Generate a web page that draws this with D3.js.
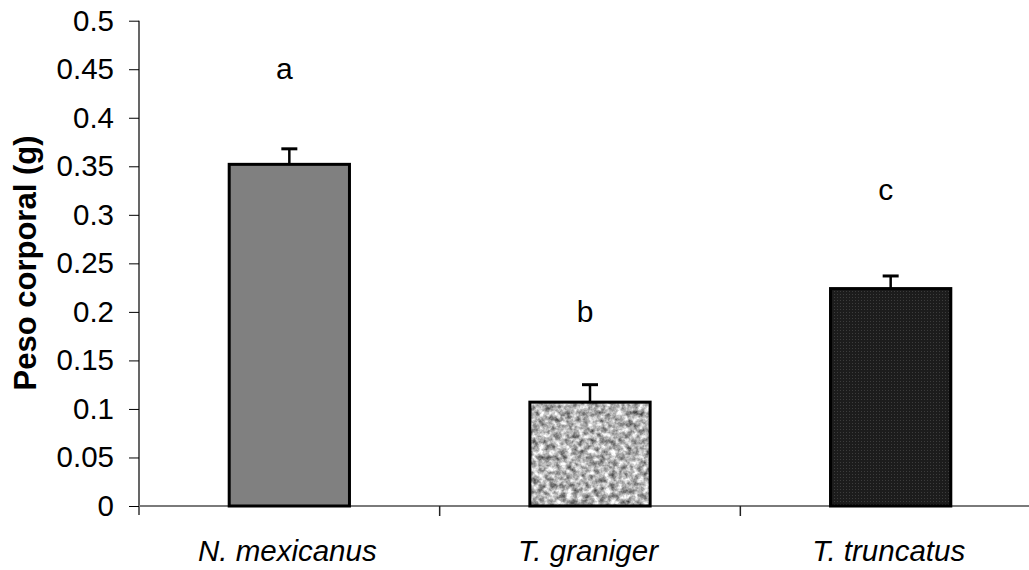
<!DOCTYPE html>
<html>
<head>
<meta charset="utf-8">
<script src="https://d3js.org/d3.v7.min.js"></script>
<style>
  html, body { margin: 0; padding: 0; background: #fff; }
  svg { display: block; }
  text { font-family: Arial, "Liberation Sans", sans-serif; fill: #000; }
</style>
</head>
<body>
<svg id="chart" width="1029" height="570"></svg>
<script>
// Body weight by species (mean ± error)
const species = ["N. mexicanus", "T. graniger", "T. truncatus"];
const meanWeight = [0.352, 0.107, 0.224];
const errWeight = [0.016, 0.018, 0.013];
const groupLetters = ["a", "b", "c"];
const letterValues = [0.44, 0.19, 0.315];
const yTicks = [0, 0.05, 0.1, 0.15, 0.2, 0.25, 0.3, 0.35, 0.4, 0.45, 0.5];
const yTitle = "Peso corporal (g)";

(function () {
const svg = d3.select("#chart");
const plotLeft = 139, plotRight = 1041, plotTop = 20.7, plotBottom = 506;
const fontSize = 29.5;

const x = d3.scaleBand().domain(species).range([plotLeft, plotRight]).padding(0);
const y = d3.scaleLinear().domain([0, 0.5]).range([plotBottom, plotTop]);
const bw = x.bandwidth();
const barW = bw * 0.4;

// Fill definitions: granite noise and fine dark dot pattern
const defs = svg.append("defs");
const granite = defs.append("filter").attr("id", "granite")
  .attr("x", 0).attr("y", 0).attr("width", 1).attr("height", 1)
  .attr("color-interpolation-filters", "sRGB");
granite.append("feTurbulence").attr("type", "fractalNoise")
  .attr("baseFrequency", 0.18).attr("numOctaves", 3).attr("seed", 7).attr("result", "noise");
granite.append("feColorMatrix").attr("in", "noise").attr("type", "matrix")
  .attr("values", "1.15 0 0 0 0.12  1.15 0 0 0 0.12  1.15 0 0 0 0.12  0 0 0 0 1")
  .attr("result", "gray");
granite.append("feGaussianBlur").attr("in", "gray").attr("stdDeviation", 0.7).attr("result", "soft");
granite.append("feComposite").attr("in", "soft").attr("in2", "SourceGraphic").attr("operator", "in");

const dots = defs.append("pattern").attr("id", "darkdots")
  .attr("width", 3).attr("height", 3).attr("patternUnits", "userSpaceOnUse");
dots.append("rect").attr("width", 3).attr("height", 3).attr("fill", "#1c1c1c");
dots.append("rect").attr("width", 1).attr("height", 1).attr("fill", "#3c3c3c");

const fills = ["#808080", "#c4c4c4", "url(#darkdots)"];

// Y axis
const yAxis = d3.axisLeft(y).tickValues(yTicks).tickSize(10).tickSizeOuter(0)
  .tickFormat(d => String(+d.toFixed(2)));
const gy = svg.append("g").attr("transform", `translate(${plotLeft},0)`).call(yAxis);
gy.select(".domain").remove();
gy.selectAll(".tick line").attr("stroke", "#000").attr("stroke-width", 1);
gy.selectAll(".tick text").attr("x", -25).attr("font-size", fontSize)
  .attr("font-family", "Arial, 'Liberation Sans', sans-serif").attr("fill", "#000");
svg.append("line").attr("x1", plotLeft).attr("x2", plotLeft).attr("y1", plotTop).attr("y2", plotBottom + 9)
  .attr("stroke", "#000").attr("stroke-width", 1.2);

// X axis baseline and category dividers
svg.append("line").attr("x1", plotLeft).attr("x2", plotRight).attr("y1", plotBottom).attr("y2", plotBottom)
  .attr("stroke", "#7a7a7a").attr("stroke-width", 2);
const dividers = species.slice(1).map(s => x(s));
svg.selectAll(".xtick").data(dividers).join("line").attr("class", "xtick")
  .attr("x1", d => d).attr("x2", d => d).attr("y1", plotBottom).attr("y2", plotBottom + 10)
  .attr("stroke", "#222").attr("stroke-width", 1.5);

// Bars
const bars = svg.append("g");
species.forEach((s, i) => {
  const bx = x(s) + (bw - barW) / 2;
  const by = y(meanWeight[i]);
  const bh = y(0) - by;
  const r = bars.append("rect").attr("x", bx).attr("y", by).attr("width", barW).attr("height", bh);
  if (i === 1) r.attr("fill", "#fff").attr("filter", "url(#granite)");
  else r.attr("fill", fills[i]);
  bars.append("rect").attr("x", bx).attr("y", by).attr("width", barW).attr("height", bh)
    .attr("fill", "none").attr("stroke", "#000").attr("stroke-width", 3);
});

// Error bars
const eb = svg.append("g").attr("stroke", "#000");
species.forEach((s, i) => {
  const cx = x(s) + bw / 2;
  const y1 = y(meanWeight[i]);
  const y2 = y(meanWeight[i] + errWeight[i]);
  eb.append("line").attr("x1", cx).attr("x2", cx).attr("y1", y1).attr("y2", y2).attr("stroke-width", 2.5);
  eb.append("line").attr("x1", cx - 8).attr("x2", cx + 8).attr("y1", y2).attr("y2", y2).attr("stroke-width", 3);
});

// Group letters
svg.selectAll(".letter").data(groupLetters).join("text").attr("class", "letter")
  .attr("x", (d, i) => x(species[i]) + bw / 2 - 5)
  .attr("y", (d, i) => y(letterValues[i]))
  .attr("text-anchor", "middle").attr("font-size", 30).text(d => d);

// Category labels
svg.selectAll(".xlabel").data(species).join("text").attr("class", "xlabel")
  .attr("x", d => x(d) + bw / 2 - 2).attr("y", 561)
  .attr("text-anchor", "middle").attr("font-size", fontSize).attr("font-style", "italic")
  .text(d => d);

// Y title
svg.append("text").attr("transform", `translate(36,263) rotate(-90)`)
  .attr("text-anchor", "middle").attr("font-size", 31).attr("font-weight", "bold")
  .text(yTitle);
})();
</script>
</body>
</html>
